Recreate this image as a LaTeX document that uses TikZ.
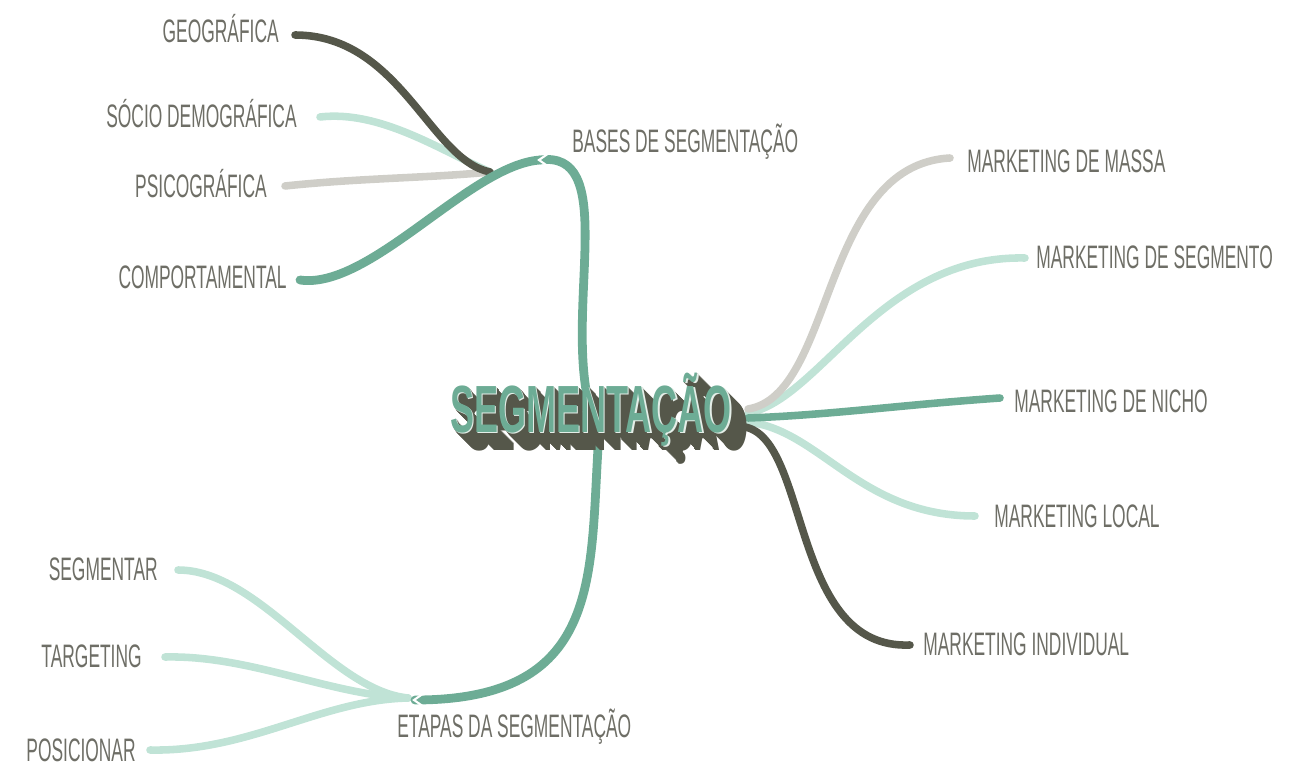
\documentclass[tikz,border=0pt]{standalone}
\usepackage{fontspec}
\usepackage{xcolor}
\newfontfamily\leaffont{Liberation Sans}[FakeStretch=0.535]
\newfontfamily\titlefont{Liberation Sans Bold}[FakeStretch=0.54]

\definecolor{segdark}{HTML}{55574A}
\definecolor{segteal}{HTML}{6DAC95}
\definecolor{segmint}{HTML}{C0E3D6}
\definecolor{seggrey}{HTML}{CFCEC8}
\definecolor{segtext}{HTML}{6E6E66}
\definecolor{segpale}{HTML}{E4EEE8}

\tikzset{
  leaf/.style={font=\leaffont\fontsize{18.5}{20}\selectfont, text=segtext, inner sep=0pt},
  headline/.style={font=\titlefont\fontsize{38}{40}\selectfont, inner sep=0pt, anchor=base},
  trunk/.style={line width=5pt, line cap=round, segteal},
  twig/.style={line width=4.3pt, line cap=round},
}

\begin{document}
\begin{tikzpicture}[x=0.02cm, y=-0.02cm]
\useasboundingbox (0,0) rectangle (1310,763);

% labels
\node[leaf, anchor=base east] (geo) at (279,43) {GEOGRÁFICA};
\node[leaf, anchor=base east] (socio) at (297,128) {SÓCIO DEMOGRÁFICA};
\node[leaf, anchor=base east] (psico) at (267,198) {PSICOGRÁFICA};
\node[leaf, anchor=base east] (comport) at (287,289) {COMPORTAMENTAL};
\node[leaf, anchor=base west] (bases) at (572,153) {BASES DE SEGMENTAÇÃO};

\node[leaf, anchor=base west] (massa) at (967,173) {MARKETING DE MASSA};
\node[leaf, anchor=base west] (segmento) at (1036,269) {MARKETING DE SEGMENTO};
\node[leaf, anchor=base west] (nicho) at (1014,412) {MARKETING DE NICHO};
\node[leaf, anchor=base west] (local) at (994,527) {MARKETING LOCAL};
\node[leaf, anchor=base west] (individual) at (923,655) {MARKETING INDIVIDUAL};

\node[leaf, anchor=base east] (segmentar) at (158,580) {SEGMENTAR};
\node[leaf, anchor=base east] (targeting) at (142,667) {TARGETING};
\node[leaf, anchor=base east] (posicionar) at (136,761) {POSICIONAR};
\node[leaf, anchor=base west] (etapas) at (397,737) {ETAPAS DA SEGMENTAÇÃO};

% branch ends
\coordinate (geoEnd) at (295,35);
\coordinate (socioEnd) at (320,117);
\coordinate (psicoEnd) at (285,186);
\coordinate (comportEnd) at (300,280);
\coordinate (basesJ) at (540,160);
\coordinate (basesK) at (490,172);
\coordinate (segTop) at (586,390);
\coordinate (segBot) at (598,448);
\coordinate (etapasJ) at (415,700);
\coordinate (etapasK) at (408,698);
\coordinate (massaEnd) at (950,158);
\coordinate (segmentoEnd) at (1025,258);
\coordinate (nichoEnd) at (1000,398);
\coordinate (localEnd) at (975,516);
\coordinate (individualEnd) at (910,645);
\coordinate (segmentarEnd) at (178,570);
\coordinate (targetingEnd) at (165,657);
\coordinate (posicionarEnd) at (150,750);

% bases de segmentacao
\draw[twig, seggrey] (psicoEnd) .. controls (360,178) and (430,178) .. (basesK);
\draw[twig, segmint] (socioEnd) .. controls (380,110) and (440,150) .. (basesK);
\draw[twig, segdark] (geoEnd) .. controls (400,35) and (430,160) .. (basesK);
\draw[trunk] (segTop) .. controls (570,290) and (615,150) .. (basesJ);
\draw[trunk] (basesJ) .. controls (470,165) and (370,290) .. (comportEnd);
\draw[white, line width=1.2pt] (549,153) -- (539,160) -- (549,167);

% tipos de marketing
\draw[twig, segmint] (748,422) .. controls (820,430) and (860,516) .. (localEnd);
\draw[twig, segmint] (748,413) .. controls (820,400) and (880,255) .. (segmentoEnd);
\draw[twig, seggrey] (748,409) .. controls (835,395) and (820,165) .. (massaEnd);
\draw[twig, segdark] (745,427) .. controls (810,440) and (790,650) .. (individualEnd);
\draw[twig, segteal] (748,418) .. controls (830,415) and (900,405) .. (nichoEnd);

% etapas
\draw[twig, segmint] (etapasK) .. controls (330,690) and (260,570) .. (segmentarEnd);
\draw[twig, segmint] (etapasK) .. controls (330,695) and (250,655) .. (targetingEnd);
\draw[twig, segmint] (etapasK) .. controls (320,700) and (250,752) .. (posicionarEnd);
\draw[trunk] (segBot) .. controls (590,580) and (600,700) .. (etapasJ);
\draw[white, line width=1.2pt] (424,693) -- (414,700) -- (424,707);

% title with block shadow
\foreach \i in {1,...,18}
  \node[headline, text=segdark] (shade\i) at (591+\i*0.95,432+\i) {SEGMENTAÇÃO};
\node[headline, text=segpale] (glow) at (592.5,433.5) {SEGMENTAÇÃO};
\node[headline, text=segteal] (seg) at (591,432) {SEGMENTAÇÃO};
\end{tikzpicture}
\end{document}
